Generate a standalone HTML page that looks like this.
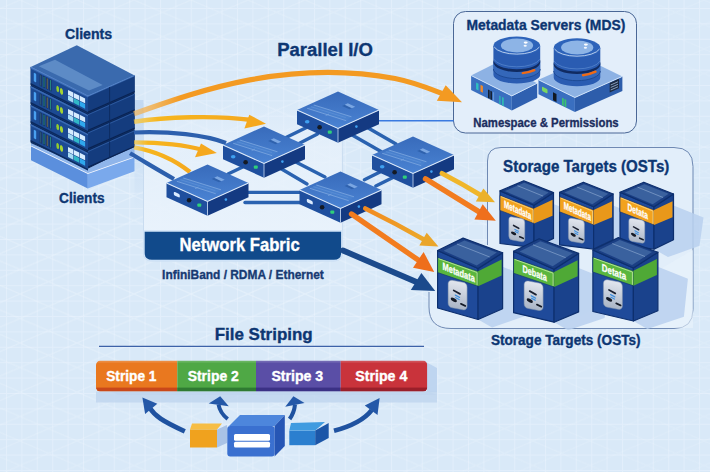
<!DOCTYPE html>
<html><head><meta charset="utf-8"><style>
html,body{margin:0;padding:0;width:710px;height:472px;overflow:hidden;background:#d9e9f8;}
svg{display:block;font-family:"Liberation Sans",sans-serif;}
</style></head><body>
<svg width="710" height="472" viewBox="0 0 710 472" font-family="Liberation Sans, sans-serif"><defs>
<pattern id="sq" x="6" y="8" width="15.4" height="15.4" patternUnits="userSpaceOnUse"><path d="M0.5 0V15.4M0 0.5H15.4" fill="none" stroke="#e2eefb" stroke-width="1"/></pattern>
<pattern id="iso" x="20" y="0" width="57" height="24.5" patternUnits="userSpaceOnUse"><path d="M0 0L57 24.5M0 24.5L57 0" fill="none" stroke="#f4f9fe" stroke-width="1.2"/></pattern>
<radialGradient id="isoMaskG" cx="0.35" cy="0.5" r="0.7"><stop offset="0" stop-color="#fff" stop-opacity="0.9"/><stop offset="1" stop-color="#fff" stop-opacity="0.3"/></radialGradient><mask id="isoMask"><rect width="710" height="472" fill="url(#isoMaskG)"/></mask>
<linearGradient id="gOr" x1="0" x2="1"><stop offset="0" stop-color="#f7b24a" stop-opacity="0.6"/><stop offset="0.15" stop-color="#f39a22"/><stop offset="1" stop-color="#f39a22"/></linearGradient>
<linearGradient id="gYe" x1="0" x2="1"><stop offset="0" stop-color="#f5c842" stop-opacity="0.7"/><stop offset="0.2" stop-color="#f6b61e"/><stop offset="1" stop-color="#f5a81e"/></linearGradient>
<linearGradient id="gSwTop" x1="0" y1="0" x2="0" y2="1"><stop offset="0" stop-color="#386bbb"/><stop offset="1" stop-color="#4a83d3"/></linearGradient>
<linearGradient id="gIcon" x1="0" y1="0" x2="0" y2="1"><stop offset="0" stop-color="#e2e6ee"/><stop offset="1" stop-color="#aab5c6"/></linearGradient>
<linearGradient id="gBand" x1="0" y1="0" x2="0" y2="1"><stop offset="0" stop-color="#1a55a0"/><stop offset="1" stop-color="#123f82"/></linearGradient>
</defs>
<rect width="710" height="472" fill="#d9e9f8"/>
<rect width="710" height="472" fill="url(#sq)"/>
<rect width="710" height="472" fill="url(#iso)" opacity="0.45" mask="url(#isoMask)"/>
<linearGradient id="gPan" x1="0" y1="0" x2="0" y2="1"><stop offset="0" stop-color="#e6f0fb" stop-opacity="0"/><stop offset="0.3" stop-color="#e7f1fb" stop-opacity="0.8"/><stop offset="1" stop-color="#eaf3fc"/></linearGradient><linearGradient id="gPanE" x1="0" y1="0" x2="0" y2="1"><stop offset="0" stop-color="#c9dcf0" stop-opacity="0"/><stop offset="0.35" stop-color="#c9dcf0"/><stop offset="1" stop-color="#c9dcf0"/></linearGradient><path d="M143.5,100 H342.4 V253 Q342.4,261 334,261 H152 Q143.5,261 143.5,253 Z" fill="url(#gPan)" stroke="url(#gPanE)" stroke-width="1"/><linearGradient id="gStrip" x1="0" y1="0" x2="0" y2="1"><stop offset="0" stop-color="#bcd4f0"/><stop offset="1" stop-color="#bcd4f0" stop-opacity="0"/></linearGradient><rect x="134.5" y="100" width="9" height="110" fill="url(#gStrip)" opacity="0.8"/>
<path d="M144,231 H341.8 V253 Q341.8,260.5 334,260.5 H152 Q144,260.5 144,253 Z" fill="#114a8b" stroke="#cfe3f8" stroke-width="1.4"/>
<text x="179.5" y="251.2" font-size="18.38" font-weight="bold" fill="#ffffff" stroke="#ffffff" stroke-width="0.35" textLength="120.2" lengthAdjust="spacingAndGlyphs" >Network Fabric</text>
<text x="162.1" y="278.5" font-size="12.76" font-weight="bold" fill="#173a72" stroke="#173a72" stroke-width="0.35" textLength="161.7" lengthAdjust="spacingAndGlyphs" >InfiniBand / RDMA / Ethernet</text>
<rect x="453.5" y="11.5" width="183" height="121.5" rx="12" fill="#e3eefa" stroke="#4a6796" stroke-width="1"/>
<text x="466.5" y="30.0" font-size="14.54" font-weight="bold" fill="#0d3672" stroke="#0d3672" stroke-width="0.35" textLength="158.8" lengthAdjust="spacingAndGlyphs" >Metadata Servers (MDS)</text>
<text x="473.3" y="126.7" font-size="13.17" font-weight="bold" fill="#1b2d5e" stroke="#1b2d5e" stroke-width="0.35" textLength="145.4" lengthAdjust="spacingAndGlyphs" >Namespace &amp; Permissions</text>
<polygon points="471.1,75.5 511.8,95.9 511.8,110.4 471.1,90.0" fill="#3a6fc0" /><polygon points="511.8,95.9 537.2,83.2 537.2,97.7 511.8,110.4" fill="#2f60b0" /><polygon points="471.1,75.5 496.5,62.8 537.2,83.2 511.8,95.9" fill="#8db2e4" /><polyline points="471.1,75.5 511.8,95.9 537.2,83.2" fill="none" stroke="#d6e6fa" stroke-width="0.9"/><g transform="translate(471.1,75.5) skewY(26.6)"><rect x="5" y="4.5" width="2.4" height="6.8" fill="#2fc0c0"/><rect x="9.4" y="4.6" width="2.4" height="6.8" fill="#f08a2a"/><rect x="17" y="5.5" width="1.5" height="8.5" fill="#111822"/><rect x="19.3" y="5.5" width="1.5" height="8.5" fill="#111822"/><rect x="22" y="5.5" width="1" height="8.5" fill="#6a9ad8"/><rect x="28" y="6" width="1.6" height="8.5" fill="#2fa8b8"/><rect x="31" y="6" width="1.6" height="8.5" fill="#2fc0b0"/></g>
<path d="M493.4,46.0 V74.8 A23.4,8.6 0 0 0 540.2,74.8 V46.0 Z" fill="#2a5cb2"/><path d="M493.4,61.0 A23.4,9.6 0 0 0 540.2,61.0 V69.0 A23.4,9.6 0 0 1 493.4,69.0 Z" fill="#3467b9"/><path d="M493.4,59.7 A23.4,9.6 0 0 0 540.2,59.7 V62.3 A23.4,9.6 0 0 1 493.4,62.3 Z" fill="#102b62"/><path d="M493.9,59.2 A23.4,9.6 0 0 0 539.7,59.2" fill="none" stroke="#5a8ad0" stroke-width="0.7"/><path d="M493.4,69.0 A23.4,9.6 0 0 0 540.2,69.0" fill="none" stroke="#1d4a95" stroke-width="1"/><path d="M522.8,73.1 Q528.5,72.7 534.3,70.2" stroke="#f06a14" stroke-width="2.4" fill="none" stroke-linecap="round"/><ellipse cx="516.8" cy="46" rx="23.4" ry="9.6" fill="#2d63ba"/><path d="M494.2,47.0 A23.4,9.6 0 0 0 539.4,47.0" fill="none" stroke="#d8e6f8" stroke-width="0.8"/><ellipse cx="517.0" cy="45.5" rx="16.1" ry="6.9" fill="#8db4e6"/><ellipse cx="525.7" cy="42.6" rx="2" ry="1.1" fill="#ffffff"/><ellipse cx="525.2" cy="45.7" rx="1.6" ry="1" fill="#ffffff" opacity="0.9"/>
<polygon points="538.5,79.8 574.9,97.5 574.9,112.0 538.5,94.3" fill="#3a6fc0" /><polygon points="574.9,97.5 622.4,76.4 622.4,90.9 574.9,112.0" fill="#2d5dab" /><polygon points="538.5,79.8 586.0,58.7 622.4,76.4 574.9,97.5" fill="#8db2e4" /><polyline points="538.5,79.8 574.9,97.5 622.4,76.4" fill="none" stroke="#d6e6fa" stroke-width="0.9"/><g transform="translate(538.5,79.8) skewY(25.9)"><rect x="3.5" y="5" width="5.5" height="4.5" rx="1" fill="#7ad860"/><rect x="14.5" y="5.5" width="3.5" height="8" fill="#111822"/><rect x="23.5" y="6.5" width="1.8" height="7.5" fill="#3ac070"/><rect x="26" y="6.5" width="1.8" height="7.5" fill="#3ac070"/></g><g transform="translate(609.7,83) skewY(-24)"><rect x="0" y="0" width="9.3" height="9.5" fill="#1c2a40"/><path d="M1,2.5H8.3M1,5H8.3M1,7.5H8.3" stroke="#8aa0c0" stroke-width="0.9"/></g>
<path d="M553.7,48.0 V77.5 A23.3,8.7 0 0 0 600.3,77.5 V48.0 Z" fill="#2a5cb2"/><path d="M553.7,63.0 A23.3,9.7 0 0 0 600.3,63.0 V71.0 A23.3,9.7 0 0 1 553.7,71.0 Z" fill="#3467b9"/><path d="M553.7,61.7 A23.3,9.7 0 0 0 600.3,61.7 V64.3 A23.3,9.7 0 0 1 553.7,64.3 Z" fill="#102b62"/><path d="M554.2,61.2 A23.3,9.7 0 0 0 599.8,61.2" fill="none" stroke="#5a8ad0" stroke-width="0.7"/><path d="M553.7,71.0 A23.3,9.7 0 0 0 600.3,71.0" fill="none" stroke="#1d4a95" stroke-width="1"/><path d="M583.0,75.2 Q589.2,74.7 595.5,71.7" stroke="#f06a14" stroke-width="2.4" fill="none" stroke-linecap="round"/><ellipse cx="577" cy="48" rx="23.3" ry="9.7" fill="#2d63ba"/><path d="M554.5,49.0 A23.3,9.7 0 0 0 599.5,49.0" fill="none" stroke="#d8e6f8" stroke-width="0.8"/><ellipse cx="577.2" cy="47.5" rx="16.1" ry="7.0" fill="#8db4e6"/><ellipse cx="585.9" cy="44.6" rx="2" ry="1.1" fill="#ffffff"/><ellipse cx="585.4" cy="47.7" rx="1.6" ry="1" fill="#ffffff" opacity="0.9"/>
<path d="M487.5,245 V161 Q487.5,147.5 501,147.5 H674 Q693,147.5 693,166.5 V309.5 Q693,328.5 674,328.5 H451 Q429,328.5 429,307 V262 Q429,245 450,245 Z" fill="#e2eefa"/>
<path d="M487.5,245 V161 Q487.5,147.5 501,147.5 H674 Q693,147.5 693,166.5 V309.5 Q693,328.5 674,328.5 H451 Q429,328.5 429,307 V292" fill="none" stroke="#6f89b3" stroke-width="1"/>
<path d="M560,328 L693,250 V328 Z" fill="#eaf3fc" opacity="0.6"/>
<text x="503.1" y="172.0" font-size="16.19" font-weight="bold" fill="#0d3672" stroke="#0d3672" stroke-width="0.35" textLength="166.3" lengthAdjust="spacingAndGlyphs" >Storage Targets (OSTs)</text>
<text x="490.9" y="345.3" font-size="13.99" font-weight="bold" fill="#0d3672" stroke="#0d3672" stroke-width="0.35" textLength="149.7" lengthAdjust="spacingAndGlyphs" >Storage Targets (OSTs)</text>
<text x="65.0" y="38.7" font-size="14.13" font-weight="bold" fill="#0d3672" stroke="#0d3672" stroke-width="0.35" textLength="47.1" lengthAdjust="spacingAndGlyphs" >Clients</text>
<text x="59.1" y="203.2" font-size="14.13" font-weight="bold" fill="#0d3672" stroke="#0d3672" stroke-width="0.35" textLength="45.5" lengthAdjust="spacingAndGlyphs" >Clients</text>
<text x="277.2" y="55.6" font-size="18.79" font-weight="bold" fill="#0d3672" stroke="#0d3672" stroke-width="0.35" textLength="95.7" lengthAdjust="spacingAndGlyphs" >Parallel I/O</text>
<polygon points="31.0,143.0 88.0,168.8 134.6,145.4 134.5,157.5 87.8,174.0 31.0,146.5" fill="#8fb5ea" />
<polyline points="31,146.5 87.8,174 134.5,157.5" fill="none" stroke="#f4f8ff" stroke-width="1.6"/>
<polygon points="31.0,146.5 87.8,174.0 87.8,188.6 31.0,160.2" fill="#5b8fdd" />
<polygon points="87.8,174.0 134.5,157.5 134.5,171.2 87.8,188.6" fill="#7aa9ec" />
<polygon points="30.7,67.1 88.0,96.0 134.6,75.4 134.6,145.4 88.0,168.8 30.7,143.0" fill="#0c2a5e" />
<g transform="translate(30.70,124.10) skewY(26.765)"><rect x="0" y="0" width="57.30" height="17.60" fill="#1c4a93"/><rect x="0" y="0" width="57.30" height="1.6" fill="#3a6ab4"/><rect x="0" y="16.00" width="57.30" height="1.6" fill="#0c2a5e"/><rect x="3.1" y="4" width="2.4" height="8.6" rx="0.6" fill="#4aa0f0"/><rect x="9" y="2.5" width="2.2" height="11.5" fill="#15305c"/><rect x="9.7" y="3" width="0.8" height="10.5" fill="#3a6a8a"/><rect x="12.2" y="2.5" width="2.2" height="11.5" fill="#15305c"/><rect x="12.9" y="3" width="0.8" height="10.5" fill="#2aa08a"/><rect x="15.4" y="2.5" width="2.2" height="11.5" fill="#15305c"/><rect x="16.1" y="3" width="0.8" height="10.5" fill="#8a7a50"/><rect x="18.6" y="2.5" width="2.2" height="11.5" fill="#15305c"/><rect x="19.3" y="3" width="0.8" height="10.5" fill="#2a9a8a"/><ellipse cx="27" cy="8.3" rx="1.4" ry="3" fill="#93cc2e"/><ellipse cx="30.8" cy="8.8" rx="1.6" ry="3.2" fill="#a6d432"/><rect x="37.3" y="4" width="5.3" height="4.8" fill="#d6ecff"/><rect x="43.2" y="4" width="5.3" height="4.8" fill="#d6ecff"/><rect x="49.1" y="4" width="5.3" height="4.8" fill="#d6ecff"/><rect x="37.3" y="9.4" width="5.3" height="4.8" fill="#a8dcf6"/><rect x="43.2" y="9.4" width="5.3" height="4.8" fill="#31b8c8"/><rect x="49.1" y="9.4" width="5.3" height="4.8" fill="#2fa8ee"/></g>
<g transform="translate(88.00,150.90) skewY(-23.848)"><rect x="0" y="0" width="46.60" height="16.80" fill="#143c7e"/><rect x="0" y="0" width="46.60" height="1" fill="#2d5aa0"/><rect x="0" y="15.50" width="46.60" height="1.3" fill="#0a2352"/><rect x="21.2" y="0" width="0.9" height="16.8" fill="#0c2a5e"/></g>
<g transform="translate(30.70,105.10) skewY(26.765)"><rect x="0" y="0" width="57.30" height="17.60" fill="#1c4a93"/><rect x="0" y="0" width="57.30" height="1.6" fill="#3a6ab4"/><rect x="0" y="16.00" width="57.30" height="1.6" fill="#0c2a5e"/><rect x="3.1" y="4" width="2.4" height="8.6" rx="0.6" fill="#4aa0f0"/><rect x="9" y="2.5" width="2.2" height="11.5" fill="#15305c"/><rect x="9.7" y="3" width="0.8" height="10.5" fill="#3a6a8a"/><rect x="12.2" y="2.5" width="2.2" height="11.5" fill="#15305c"/><rect x="12.9" y="3" width="0.8" height="10.5" fill="#2aa08a"/><rect x="15.4" y="2.5" width="2.2" height="11.5" fill="#15305c"/><rect x="16.1" y="3" width="0.8" height="10.5" fill="#8a7a50"/><rect x="18.6" y="2.5" width="2.2" height="11.5" fill="#15305c"/><rect x="19.3" y="3" width="0.8" height="10.5" fill="#2a9a8a"/><ellipse cx="27" cy="8.3" rx="1.4" ry="3" fill="#93cc2e"/><ellipse cx="30.8" cy="8.8" rx="1.6" ry="3.2" fill="#a6d432"/><rect x="37.3" y="4" width="5.3" height="4.8" fill="#d6ecff"/><rect x="43.2" y="4" width="5.3" height="4.8" fill="#d6ecff"/><rect x="49.1" y="4" width="5.3" height="4.8" fill="#d6ecff"/><rect x="37.3" y="9.4" width="5.3" height="4.8" fill="#a8dcf6"/><rect x="43.2" y="9.4" width="5.3" height="4.8" fill="#31b8c8"/><rect x="49.1" y="9.4" width="5.3" height="4.8" fill="#2fa8ee"/></g>
<g transform="translate(88.00,132.60) skewY(-23.848)"><rect x="0" y="0" width="46.60" height="16.80" fill="#143c7e"/><rect x="0" y="0" width="46.60" height="1" fill="#2d5aa0"/><rect x="0" y="15.50" width="46.60" height="1.3" fill="#0a2352"/><rect x="21.2" y="0" width="0.9" height="16.8" fill="#0c2a5e"/></g>
<g transform="translate(30.70,86.10) skewY(26.765)"><rect x="0" y="0" width="57.30" height="17.60" fill="#1c4a93"/><rect x="0" y="0" width="57.30" height="1.6" fill="#3a6ab4"/><rect x="0" y="16.00" width="57.30" height="1.6" fill="#0c2a5e"/><rect x="3.1" y="4" width="2.4" height="8.6" rx="0.6" fill="#4aa0f0"/><rect x="9" y="2.5" width="2.2" height="11.5" fill="#15305c"/><rect x="9.7" y="3" width="0.8" height="10.5" fill="#3a6a8a"/><rect x="12.2" y="2.5" width="2.2" height="11.5" fill="#15305c"/><rect x="12.9" y="3" width="0.8" height="10.5" fill="#2aa08a"/><rect x="15.4" y="2.5" width="2.2" height="11.5" fill="#15305c"/><rect x="16.1" y="3" width="0.8" height="10.5" fill="#8a7a50"/><rect x="18.6" y="2.5" width="2.2" height="11.5" fill="#15305c"/><rect x="19.3" y="3" width="0.8" height="10.5" fill="#2a9a8a"/><ellipse cx="27" cy="8.3" rx="1.4" ry="3" fill="#93cc2e"/><ellipse cx="30.8" cy="8.8" rx="1.6" ry="3.2" fill="#a6d432"/><rect x="37.3" y="4" width="5.3" height="4.8" fill="#d6ecff"/><rect x="43.2" y="4" width="5.3" height="4.8" fill="#d6ecff"/><rect x="49.1" y="4" width="5.3" height="4.8" fill="#d6ecff"/><rect x="37.3" y="9.4" width="5.3" height="4.8" fill="#a8dcf6"/><rect x="43.2" y="9.4" width="5.3" height="4.8" fill="#31b8c8"/><rect x="49.1" y="9.4" width="5.3" height="4.8" fill="#2fa8ee"/></g>
<g transform="translate(88.00,114.30) skewY(-23.848)"><rect x="0" y="0" width="46.60" height="16.80" fill="#143c7e"/><rect x="0" y="0" width="46.60" height="1" fill="#2d5aa0"/><rect x="0" y="15.50" width="46.60" height="1.3" fill="#0a2352"/><rect x="21.2" y="0" width="0.9" height="16.8" fill="#0c2a5e"/></g>
<g transform="translate(30.70,67.10) skewY(26.765)"><rect x="0" y="0" width="57.30" height="17.60" fill="#1c4a93"/><rect x="0" y="0" width="57.30" height="1.6" fill="#3a6ab4"/><rect x="0" y="16.00" width="57.30" height="1.6" fill="#0c2a5e"/><rect x="3.1" y="4" width="2.4" height="8.6" rx="0.6" fill="#4aa0f0"/><rect x="9" y="2.5" width="2.2" height="11.5" fill="#15305c"/><rect x="9.7" y="3" width="0.8" height="10.5" fill="#3a6a8a"/><rect x="12.2" y="2.5" width="2.2" height="11.5" fill="#15305c"/><rect x="12.9" y="3" width="0.8" height="10.5" fill="#2aa08a"/><rect x="15.4" y="2.5" width="2.2" height="11.5" fill="#15305c"/><rect x="16.1" y="3" width="0.8" height="10.5" fill="#8a7a50"/><rect x="18.6" y="2.5" width="2.2" height="11.5" fill="#15305c"/><rect x="19.3" y="3" width="0.8" height="10.5" fill="#2a9a8a"/><ellipse cx="27" cy="8.3" rx="1.4" ry="3" fill="#93cc2e"/><ellipse cx="30.8" cy="8.8" rx="1.6" ry="3.2" fill="#a6d432"/><rect x="37.3" y="4" width="5.3" height="4.8" fill="#d6ecff"/><rect x="43.2" y="4" width="5.3" height="4.8" fill="#d6ecff"/><rect x="49.1" y="4" width="5.3" height="4.8" fill="#d6ecff"/><rect x="37.3" y="9.4" width="5.3" height="4.8" fill="#a8dcf6"/><rect x="43.2" y="9.4" width="5.3" height="4.8" fill="#31b8c8"/><rect x="49.1" y="9.4" width="5.3" height="4.8" fill="#2fa8ee"/></g>
<g transform="translate(88.00,96.00) skewY(-23.848)"><rect x="0" y="0" width="46.60" height="16.80" fill="#143c7e"/><rect x="0" y="0" width="46.60" height="1" fill="#2d5aa0"/><rect x="0" y="15.50" width="46.60" height="1.3" fill="#0a2352"/><rect x="21.2" y="0" width="0.9" height="16.8" fill="#0c2a5e"/></g>
<polygon points="30.7,67.1 76.8,45.2 134.6,75.4 88.0,96.0" fill="#3a6aae" />
<polygon points="38.8,66.3 55.0,59.8 102.7,84.9 89.0,90.6" fill="#5d8bc6" />
<polyline points="30.7,67.1 88,96 134.6,75.4" fill="none" stroke="#5b8ad0" stroke-width="0.8"/>
<path d="M134,113.8 C200,90 290,59 395,78.5 C415,82.5 428,88 442,93.5" fill="none" stroke="url(#gOr)" stroke-width="5.2" stroke-linecap="butt" />
<polygon points="462.0,102.3 445.7,85.2 436.8,100.8" fill="#f39a22" />
<path d="M134,121.7 C165,117 215,115 252,120" fill="none" stroke="url(#gYe)" stroke-width="4.4" stroke-linecap="butt" />
<polygon points="266.0,123.7 249.3,114.8 244.4,128.6" fill="#f5a81e" />
<path d="M134,132.5 C170,131 205,135 226,143" fill="none" stroke="#2c5fad" stroke-width="4.2" stroke-linecap="butt" />
<path d="M134,142.4 C160,142.5 185,145 203,150" fill="none" stroke="url(#gYe)" stroke-width="4.4" stroke-linecap="butt" />
<polygon points="216.8,152.9 201.0,143.4 195.0,157.2" fill="#f5a81e" />
<path d="M134,147.3 C155,151 175,160 190,172" fill="none" stroke="url(#gYe)" stroke-width="4.4" stroke-linecap="butt" />
<path d="M130,153.3 C145,162 158,170 174,179" fill="none" stroke="#2c5fad" stroke-width="4.2" stroke-linecap="butt" />
<line x1="306" y1="127.7" x2="285" y2="138" stroke="#2a62b0" stroke-width="3.4" stroke-linecap="round"/>
<line x1="317.5" y1="134" x2="298" y2="144" stroke="#2a62b0" stroke-width="3.4" stroke-linecap="round"/>
<line x1="365.6" y1="126.5" x2="396" y2="144" stroke="#2a62b0" stroke-width="3.4" stroke-linecap="round"/>
<line x1="350.4" y1="134" x2="381" y2="151.5" stroke="#2a62b0" stroke-width="3.4" stroke-linecap="round"/>
<line x1="293.4" y1="160.7" x2="325" y2="177" stroke="#2a62b0" stroke-width="3.4" stroke-linecap="round"/>
<line x1="278.2" y1="167" x2="307" y2="184" stroke="#2a62b0" stroke-width="3.4" stroke-linecap="round"/>
<line x1="364.4" y1="179.7" x2="384" y2="170" stroke="#2a62b0" stroke-width="3.4" stroke-linecap="round"/>
<line x1="375.8" y1="186" x2="396" y2="176" stroke="#2a62b0" stroke-width="3.4" stroke-linecap="round"/>
<line x1="247" y1="192.4" x2="301" y2="192.4" stroke="#2a62b0" stroke-width="3.4" stroke-linecap="round"/>
<line x1="245" y1="202.5" x2="300" y2="202.5" stroke="#2a62b0" stroke-width="3.4" stroke-linecap="round"/>
<line x1="242.7" y1="167" x2="228" y2="174" stroke="#2a62b0" stroke-width="3.4" stroke-linecap="round"/>
<line x1="379" y1="120.8" x2="453" y2="120.8" stroke="#3a7ae0" stroke-width="1.6" stroke-linecap="round"/>
<polygon points="297.0,110.0 338.0,128.5 338.0,142.7 297.0,124.2" fill="#1f4f9e" /><polygon points="338.0,128.5 379.0,110.0 379.0,124.2 338.0,142.7" fill="#143a82" /><polygon points="297.0,110.0 338.0,91.5 379.0,110.0 338.0,128.5" fill="url(#gSwTop)" /><polygon points="307.2,108.3 346.2,120.7 351.5,116.8 313.8,105.0" fill="#4f86d2" opacity="0.55"/><line x1="307.2" y1="108.3" x2="346.2" y2="120.7" stroke="#77a3de" stroke-width="0.9"/><line x1="313.8" y1="105.0" x2="351.5" y2="116.8" stroke="#77a3de" stroke-width="0.9"/><line x1="310.9" y1="106.7" x2="345.8" y2="117.6" stroke="#5f92d8" stroke-width="0.7"/><line x1="325.7" y1="115.5" x2="329.0" y2="114.1" stroke="#77a3de" stroke-width="0.8"/><polygon points="345.4,104.5 352.8,107.8 349.5,109.3 342.1,105.9" fill="#2f62ae" /><polygon points="347.8,103.3 355.2,106.7 351.9,108.2 344.6,104.8" fill="#7aa6e2" /><polyline points="297.0,110.0 338.0,128.5 379.0,110.0" fill="none" stroke="#dbe8f8" stroke-width="1.1"/><line x1="338.0" y1="128.5" x2="338.0" y2="142.7" stroke="#c9dcf5" stroke-width="0.8"/><ellipse cx="307.2" cy="121.7" rx="2.3" ry="1.8" fill="#3fa0f0"/><circle cx="319.6" cy="127.3" r="2.3" fill="#141a24"/><rect x="327.8" y="130.6" width="4" height="3.2" rx="1" fill="#2fd07a"/><circle cx="356.4" cy="126.6" r="1.3" fill="#3fa0f0"/>
<polygon points="223.0,145.0 264.0,163.5 264.0,177.7 223.0,159.2" fill="#1f4f9e" /><polygon points="264.0,163.5 305.0,145.0 305.0,159.2 264.0,177.7" fill="#143a82" /><polygon points="223.0,145.0 264.0,126.5 305.0,145.0 264.0,163.5" fill="url(#gSwTop)" /><polygon points="233.2,143.3 272.2,155.7 277.5,151.8 239.8,140.0" fill="#4f86d2" opacity="0.55"/><line x1="233.2" y1="143.3" x2="272.2" y2="155.7" stroke="#77a3de" stroke-width="0.9"/><line x1="239.8" y1="140.0" x2="277.5" y2="151.8" stroke="#77a3de" stroke-width="0.9"/><line x1="236.9" y1="141.7" x2="271.8" y2="152.6" stroke="#5f92d8" stroke-width="0.7"/><line x1="251.7" y1="150.6" x2="255.0" y2="149.1" stroke="#77a3de" stroke-width="0.8"/><polygon points="271.4,139.4 278.8,142.8 275.5,144.3 268.1,140.9" fill="#2f62ae" /><polygon points="273.8,138.3 281.2,141.7 277.9,143.2 270.6,139.8" fill="#7aa6e2" /><polyline points="223.0,145.0 264.0,163.5 305.0,145.0" fill="none" stroke="#dbe8f8" stroke-width="1.1"/><line x1="264.0" y1="163.5" x2="264.0" y2="177.7" stroke="#c9dcf5" stroke-width="0.8"/><ellipse cx="233.2" cy="156.7" rx="2.3" ry="1.8" fill="#3fa0f0"/><circle cx="245.6" cy="162.3" r="2.3" fill="#141a24"/><rect x="253.8" y="165.6" width="4" height="3.2" rx="1" fill="#2fd07a"/><circle cx="282.4" cy="161.6" r="1.3" fill="#3fa0f0"/>
<polygon points="372.0,155.0 413.0,173.5 413.0,187.7 372.0,169.2" fill="#1f4f9e" /><polygon points="413.0,173.5 454.0,155.0 454.0,169.2 413.0,187.7" fill="#143a82" /><polygon points="372.0,155.0 413.0,136.5 454.0,155.0 413.0,173.5" fill="url(#gSwTop)" /><polygon points="382.2,153.3 421.2,165.7 426.5,161.8 388.8,150.0" fill="#4f86d2" opacity="0.55"/><line x1="382.2" y1="153.3" x2="421.2" y2="165.7" stroke="#77a3de" stroke-width="0.9"/><line x1="388.8" y1="150.0" x2="426.5" y2="161.8" stroke="#77a3de" stroke-width="0.9"/><line x1="385.9" y1="151.7" x2="420.8" y2="162.6" stroke="#5f92d8" stroke-width="0.7"/><line x1="400.7" y1="160.6" x2="404.0" y2="159.1" stroke="#77a3de" stroke-width="0.8"/><polygon points="420.4,149.4 427.8,152.8 424.5,154.3 417.1,150.9" fill="#2f62ae" /><polygon points="422.8,148.3 430.2,151.7 426.9,153.2 419.6,149.8" fill="#7aa6e2" /><polyline points="372.0,155.0 413.0,173.5 454.0,155.0" fill="none" stroke="#dbe8f8" stroke-width="1.1"/><line x1="413.0" y1="173.5" x2="413.0" y2="187.7" stroke="#c9dcf5" stroke-width="0.8"/><ellipse cx="382.2" cy="166.7" rx="2.3" ry="1.8" fill="#3fa0f0"/><circle cx="394.6" cy="172.3" r="2.3" fill="#141a24"/><rect x="402.8" y="175.6" width="4" height="3.2" rx="1" fill="#2fd07a"/><circle cx="431.4" cy="171.6" r="1.3" fill="#3fa0f0"/>
<polygon points="166.5,183.0 207.5,201.5 207.5,215.7 166.5,197.2" fill="#1f4f9e" /><polygon points="207.5,201.5 248.5,183.0 248.5,197.2 207.5,215.7" fill="#143a82" /><polygon points="166.5,183.0 207.5,164.5 248.5,183.0 207.5,201.5" fill="url(#gSwTop)" /><polygon points="176.8,181.3 215.7,193.7 221.0,189.8 183.3,178.0" fill="#4f86d2" opacity="0.55"/><line x1="176.8" y1="181.3" x2="215.7" y2="193.7" stroke="#77a3de" stroke-width="0.9"/><line x1="183.3" y1="178.0" x2="221.0" y2="189.8" stroke="#77a3de" stroke-width="0.9"/><line x1="180.4" y1="179.7" x2="215.3" y2="190.6" stroke="#5f92d8" stroke-width="0.7"/><line x1="195.2" y1="188.6" x2="198.5" y2="187.1" stroke="#77a3de" stroke-width="0.8"/><polygon points="214.9,177.4 222.3,180.8 219.0,182.3 211.6,178.9" fill="#2f62ae" /><polygon points="217.3,176.3 224.7,179.7 221.4,181.2 214.1,177.8" fill="#7aa6e2" /><polyline points="166.5,183.0 207.5,201.5 248.5,183.0" fill="none" stroke="#dbe8f8" stroke-width="1.1"/><line x1="207.5" y1="201.5" x2="207.5" y2="215.7" stroke="#c9dcf5" stroke-width="0.8"/><g transform="translate(176.8,194.7) skewY(24)"><rect x="-3" y="-1.8" width="6" height="3.6" rx="1.2" fill="#dcecff"/></g><circle cx="189.1" cy="200.3" r="2.3" fill="#141a24"/><rect x="197.3" y="203.6" width="4" height="3.2" rx="1" fill="#2fd07a"/><circle cx="225.9" cy="199.6" r="1.3" fill="#3fa0f0"/>
<polygon points="299.5,190.0 340.5,208.5 340.5,222.7 299.5,204.2" fill="#1f4f9e" /><polygon points="340.5,208.5 381.5,190.0 381.5,204.2 340.5,222.7" fill="#143a82" /><polygon points="299.5,190.0 340.5,171.5 381.5,190.0 340.5,208.5" fill="url(#gSwTop)" /><polygon points="309.8,188.3 348.7,200.7 354.0,196.8 316.3,185.0" fill="#4f86d2" opacity="0.55"/><line x1="309.8" y1="188.3" x2="348.7" y2="200.7" stroke="#77a3de" stroke-width="0.9"/><line x1="316.3" y1="185.0" x2="354.0" y2="196.8" stroke="#77a3de" stroke-width="0.9"/><line x1="313.4" y1="186.7" x2="348.3" y2="197.6" stroke="#5f92d8" stroke-width="0.7"/><line x1="328.2" y1="195.6" x2="331.5" y2="194.1" stroke="#77a3de" stroke-width="0.8"/><polygon points="347.9,184.4 355.3,187.8 352.0,189.3 344.6,185.9" fill="#2f62ae" /><polygon points="350.3,183.3 357.7,186.7 354.4,188.2 347.1,184.8" fill="#7aa6e2" /><polyline points="299.5,190.0 340.5,208.5 381.5,190.0" fill="none" stroke="#dbe8f8" stroke-width="1.1"/><line x1="340.5" y1="208.5" x2="340.5" y2="222.7" stroke="#c9dcf5" stroke-width="0.8"/><g transform="translate(309.8,201.7) skewY(24)"><rect x="-3" y="-1.8" width="6" height="3.6" rx="1.2" fill="#dcecff"/></g><circle cx="322.1" cy="207.3" r="2.3" fill="#141a24"/><rect x="330.3" y="210.6" width="4" height="3.2" rx="1" fill="#2fd07a"/><circle cx="358.9" cy="206.6" r="1.3" fill="#3fa0f0"/>
<path d="M442.0,173.3 Q462.8,184.0 482.7,196.4" fill="none" stroke="#f0b62a" stroke-width="4.8" stroke-linecap="round"/><polygon points="495.0,202.2 483.4,188.4 475.8,201.5" fill="#ebb12a" />
<path d="M425.5,178.8 Q453.8,196.2 482.0,213.6" fill="none" stroke="#f27c1f" stroke-width="5.4" stroke-linecap="round"/><polygon points="495.8,220.8 482.7,204.3 474.4,219.4" fill="#ef6f1c" />
<linearGradient id="gEy" gradientUnits="userSpaceOnUse" x1="365" y1="208" x2="430" y2="240"><stop offset="0" stop-color="#f28a20"/><stop offset="1" stop-color="#ebab2a"/></linearGradient>
<path d="M365.3,208.5 Q396.2,223.7 426.1,240.7" fill="none" stroke="url(#gEy)" stroke-width="4.7" stroke-linecap="round"/><polygon points="438.4,246.6 426.7,232.8 419.3,245.6" fill="#eaa52a" />
<path d="M351.5,214.0 Q386.5,238.1 421.5,262.3" fill="none" stroke="#f27c1f" stroke-width="5.3" stroke-linecap="round"/><polygon points="434.2,272.0 423.6,251.9 413.0,267.8" fill="#ee6e1c" />
<path d="M343.0,250.5 Q381.5,267.0 419.9,283.5" fill="none" stroke="#1b4a8c" stroke-width="5.8" stroke-linecap="round"/><polygon points="435.2,291.1 421.4,273.1 410.8,290.0" fill="#1b4a8c" />
<polygon points="553.5,204.0 583.5,216.0 579.5,244.4 548.0,255.7 534.0,247.7 553.5,238.4" fill="#b9d0ee" opacity="0.85"/><polygon points="500.0,190.9 534.0,205.3 534.0,247.7 500.0,243.5" fill="#1f4a9a" stroke="#0d2f6e" stroke-width="1.2" stroke-linejoin="round" /><polygon points="534.0,205.3 553.5,192.6 553.5,238.4 534.0,247.7" fill="#1a428c" stroke="#0d2f6e" stroke-width="1.2" stroke-linejoin="round" /><polygon points="500.0,190.9 523.8,180.8 553.5,192.6 534.0,205.3" fill="#1b3f84" stroke="#0d2f6e" stroke-width="1.2" stroke-linejoin="round" /><polygon points="504.8,191.1 524.3,182.8 548.7,192.4 532.7,202.9" fill="#3a619e" /><line x1="517.5" y1="185.7" x2="543.1" y2="196.1" stroke="#7d9cc8" stroke-width="0.8"/><polygon points="500.0,195.4 534.0,208.5 534.0,223.5 500.0,210.4" fill="#f2a21e" stroke="#0d2f6e" stroke-width="0.6" stroke-linejoin="round" /><polygon points="534.0,208.5 552.5,199.8 552.5,215.8 534.0,223.5" fill="#e9981a" /><polyline points="501.0,196.6 533.0,209.7 533.0,222.5" fill="none" stroke="#f9d27a" stroke-width="0.9"/><g transform="translate(504.1,207.4) skewY(23.9)"><text x="0" y="0" font-size="10.4" font-weight="bold" fill="#ffffff" stroke="#ffffff" stroke-width="0.25" textLength="27.2" lengthAdjust="spacingAndGlyphs">Metadata</text></g><g transform="translate(508.8,216.3) skewY(10.3)"><rect x="0" y="0" width="16.0" height="23.1" rx="3.5" fill="url(#gIcon)" stroke="#7f92ad" stroke-width="0.5"/><path d="M4.8,8.3 L9.9,10.2" stroke="#1a2030" stroke-width="1.6" stroke-linecap="round"/><path d="M6.1,12.0 L9.6,13.2 M6.4,14.1 L9.3,15.0" stroke="#3a8ee0" stroke-width="1.1" stroke-linecap="round"/><ellipse cx="4.8" cy="16.2" rx="2.7" ry="1.5" fill="#141a26" transform="rotate(15 4.8 16.2)"/><path d="M10.9,18.5 L14.4,19.4" stroke="#141a26" stroke-width="1.6" stroke-linecap="round"/></g>
<polygon points="613.1,205.4 643.1,217.4 639.1,245.8 607.6,257.1 593.6,249.1 613.1,239.8" fill="#b9d0ee" opacity="0.85"/><polygon points="559.6,192.3 593.6,206.7 593.6,249.1 559.6,244.9" fill="#1f4a9a" stroke="#0d2f6e" stroke-width="1.2" stroke-linejoin="round" /><polygon points="593.6,206.7 613.1,194.0 613.1,239.8 593.6,249.1" fill="#1a428c" stroke="#0d2f6e" stroke-width="1.2" stroke-linejoin="round" /><polygon points="559.6,192.3 583.4,182.2 613.1,194.0 593.6,206.7" fill="#1b3f84" stroke="#0d2f6e" stroke-width="1.2" stroke-linejoin="round" /><polygon points="564.4,192.5 583.9,184.2 608.3,193.8 592.3,204.3" fill="#3a619e" /><line x1="577.1" y1="187.1" x2="602.7" y2="197.5" stroke="#7d9cc8" stroke-width="0.8"/><polygon points="559.6,196.8 593.6,209.9 593.6,224.9 559.6,211.8" fill="#f2a21e" stroke="#0d2f6e" stroke-width="0.6" stroke-linejoin="round" /><polygon points="593.6,209.9 612.1,201.2 612.1,217.2 593.6,224.9" fill="#e9981a" /><polyline points="560.6,198.0 592.6,211.1 592.6,223.9" fill="none" stroke="#f9d27a" stroke-width="0.9"/><g transform="translate(563.7,208.8) skewY(23.9)"><text x="0" y="0" font-size="10.4" font-weight="bold" fill="#ffffff" stroke="#ffffff" stroke-width="0.25" textLength="27.2" lengthAdjust="spacingAndGlyphs">Metadata</text></g><g transform="translate(568.4,217.7) skewY(10.3)"><rect x="0" y="0" width="16.0" height="23.1" rx="3.5" fill="url(#gIcon)" stroke="#7f92ad" stroke-width="0.5"/><path d="M4.8,8.3 L9.9,10.2" stroke="#1a2030" stroke-width="1.6" stroke-linecap="round"/><path d="M6.1,12.0 L9.6,13.2 M6.4,14.1 L9.3,15.0" stroke="#3a8ee0" stroke-width="1.1" stroke-linecap="round"/><ellipse cx="4.8" cy="16.2" rx="2.7" ry="1.5" fill="#141a26" transform="rotate(15 4.8 16.2)"/><path d="M10.9,18.5 L14.4,19.4" stroke="#141a26" stroke-width="1.6" stroke-linecap="round"/></g>
<polygon points="673.5,205.4 703.5,217.4 699.5,245.8 668.0,257.1 654.0,249.1 673.5,239.8" fill="#b9d0ee" opacity="0.85"/><polygon points="620.0,192.3 654.0,206.7 654.0,249.1 620.0,244.9" fill="#1f4a9a" stroke="#0d2f6e" stroke-width="1.2" stroke-linejoin="round" /><polygon points="654.0,206.7 673.5,194.0 673.5,239.8 654.0,249.1" fill="#1a428c" stroke="#0d2f6e" stroke-width="1.2" stroke-linejoin="round" /><polygon points="620.0,192.3 643.8,182.2 673.5,194.0 654.0,206.7" fill="#1b3f84" stroke="#0d2f6e" stroke-width="1.2" stroke-linejoin="round" /><polygon points="624.8,192.5 644.3,184.2 668.7,193.8 652.7,204.3" fill="#3a619e" /><line x1="637.5" y1="187.1" x2="663.1" y2="197.5" stroke="#7d9cc8" stroke-width="0.8"/><polygon points="620.0,196.8 654.0,209.9 654.0,224.9 620.0,211.8" fill="#f2a21e" stroke="#0d2f6e" stroke-width="0.6" stroke-linejoin="round" /><polygon points="654.0,209.9 672.5,201.2 672.5,217.2 654.0,224.9" fill="#e9981a" /><polyline points="621.0,198.0 653.0,211.1 653.0,223.9" fill="none" stroke="#f9d27a" stroke-width="0.9"/><g transform="translate(627.5,210.3) skewY(23.9)"><text x="0" y="0" font-size="10.4" font-weight="bold" fill="#ffffff" stroke="#ffffff" stroke-width="0.25" textLength="20.4" lengthAdjust="spacingAndGlyphs">Detata</text></g><g transform="translate(628.8,217.7) skewY(10.3)"><rect x="0" y="0" width="16.0" height="23.1" rx="3.5" fill="url(#gIcon)" stroke="#7f92ad" stroke-width="0.5"/><path d="M4.8,8.3 L9.9,10.2" stroke="#1a2030" stroke-width="1.6" stroke-linecap="round"/><path d="M6.1,12.0 L9.6,13.2 M6.4,14.1 L9.3,15.0" stroke="#3a8ee0" stroke-width="1.1" stroke-linecap="round"/><ellipse cx="4.8" cy="16.2" rx="2.7" ry="1.5" fill="#141a26" transform="rotate(15 4.8 16.2)"/><path d="M10.9,18.5 L14.4,19.4" stroke="#141a26" stroke-width="1.6" stroke-linecap="round"/></g>
<polygon points="502.6,266.7 532.6,278.7 528.6,314.7 492.1,327.5 478.1,319.5 502.6,308.7" fill="#b9d0ee" opacity="0.85"/><polygon points="437.6,250.5 478.1,268.5 478.1,319.5 437.6,308.0" fill="#1f4a9a" stroke="#0d2f6e" stroke-width="1.2" stroke-linejoin="round" /><polygon points="478.1,268.5 502.6,252.7 502.6,308.7 478.1,319.5" fill="#1a428c" stroke="#0d2f6e" stroke-width="1.2" stroke-linejoin="round" /><polygon points="437.6,250.5 463.1,238.1 502.6,252.7 478.1,268.5" fill="#1b3f84" stroke="#0d2f6e" stroke-width="1.2" stroke-linejoin="round" /><polygon points="443.5,250.7 464.4,240.5 496.8,252.5 476.7,265.5" fill="#3a619e" /><line x1="457.0" y1="244.1" x2="489.7" y2="257.0" stroke="#7d9cc8" stroke-width="0.8"/><polygon points="437.6,257.5 478.1,271.3 478.1,286.3 437.6,272.5" fill="#5ab63e" stroke="#0d2f6e" stroke-width="0.6" stroke-linejoin="round" /><polygon points="478.1,271.3 501.6,259.5 501.6,275.5 478.1,286.3" fill="#4fa936" /><polyline points="438.6,258.7 477.1,272.5 477.1,285.3" fill="none" stroke="#b9e59a" stroke-width="0.9"/><g transform="translate(442.5,269.6) skewY(21.4)"><text x="0" y="0" font-size="10.4" font-weight="bold" fill="#ffffff" stroke="#ffffff" stroke-width="0.25" textLength="32.4" lengthAdjust="spacingAndGlyphs">Metadata</text></g><g transform="translate(448.1,279.5) skewY(10.8)"><rect x="0" y="0" width="19.0" height="27.5" rx="4.2" fill="url(#gIcon)" stroke="#7f92ad" stroke-width="0.5"/><path d="M5.7,9.9 L11.8,12.1" stroke="#1a2030" stroke-width="1.9" stroke-linecap="round"/><path d="M7.2,14.3 L11.4,15.7 M7.6,16.8 L11.0,17.9" stroke="#3a8ee0" stroke-width="1.3" stroke-linecap="round"/><ellipse cx="5.7" cy="19.3" rx="3.2" ry="1.8" fill="#141a26" transform="rotate(15 5.7 19.3)"/><path d="M12.9,22.0 L17.1,23.1" stroke="#141a26" stroke-width="1.9" stroke-linecap="round"/></g>
<polygon points="578.6,268.0 608.6,280.0 604.6,317.9 568.1,330.2 554.1,322.2 578.6,311.9" fill="#b9d0ee" opacity="0.85"/><polygon points="513.6,251.2 554.1,269.2 554.1,322.2 513.6,312.7" fill="#1f4a9a" stroke="#0d2f6e" stroke-width="1.2" stroke-linejoin="round" /><polygon points="554.1,269.2 578.6,253.4 578.6,311.9 554.1,322.2" fill="#1a428c" stroke="#0d2f6e" stroke-width="1.2" stroke-linejoin="round" /><polygon points="513.6,251.2 539.1,238.8 578.6,253.4 554.1,269.2" fill="#1b3f84" stroke="#0d2f6e" stroke-width="1.2" stroke-linejoin="round" /><polygon points="519.5,251.4 540.4,241.2 572.8,253.2 552.7,266.2" fill="#3a619e" /><line x1="533.0" y1="244.8" x2="565.7" y2="257.7" stroke="#7d9cc8" stroke-width="0.8"/><polygon points="513.6,258.2 554.1,272.0 554.1,287.0 513.6,273.2" fill="#5ab63e" stroke="#0d2f6e" stroke-width="0.6" stroke-linejoin="round" /><polygon points="554.1,272.0 577.6,260.2 577.6,276.2 554.1,287.0" fill="#4fa936" /><polyline points="514.6,259.4 553.1,273.2 553.1,286.0" fill="none" stroke="#b9e59a" stroke-width="0.9"/><g transform="translate(522.5,271.9) skewY(21.4)"><text x="0" y="0" font-size="10.4" font-weight="bold" fill="#ffffff" stroke="#ffffff" stroke-width="0.25" textLength="24.3" lengthAdjust="spacingAndGlyphs">Debata</text></g><g transform="translate(524.1,280.2) skewY(10.8)"><rect x="0" y="0" width="19.0" height="27.5" rx="4.2" fill="url(#gIcon)" stroke="#7f92ad" stroke-width="0.5"/><path d="M5.7,9.9 L11.8,12.1" stroke="#1a2030" stroke-width="1.9" stroke-linecap="round"/><path d="M7.2,14.3 L11.4,15.7 M7.6,16.8 L11.0,17.9" stroke="#3a8ee0" stroke-width="1.3" stroke-linecap="round"/><ellipse cx="5.7" cy="19.3" rx="3.2" ry="1.8" fill="#141a26" transform="rotate(15 5.7 19.3)"/><path d="M12.9,22.0 L17.1,23.1" stroke="#141a26" stroke-width="1.9" stroke-linecap="round"/></g>
<polygon points="657.9,266.8 687.9,278.8 683.9,316.7 647.4,329.0 633.4,321.0 657.9,310.7" fill="#b9d0ee" opacity="0.85"/><polygon points="592.9,250.0 633.4,268.0 633.4,321.0 592.9,311.5" fill="#1f4a9a" stroke="#0d2f6e" stroke-width="1.2" stroke-linejoin="round" /><polygon points="633.4,268.0 657.9,252.2 657.9,310.7 633.4,321.0" fill="#1a428c" stroke="#0d2f6e" stroke-width="1.2" stroke-linejoin="round" /><polygon points="592.9,250.0 618.4,237.6 657.9,252.2 633.4,268.0" fill="#1b3f84" stroke="#0d2f6e" stroke-width="1.2" stroke-linejoin="round" /><polygon points="598.8,250.2 619.7,240.0 652.0,252.0 632.0,265.0" fill="#3a619e" /><line x1="612.3" y1="243.6" x2="645.0" y2="256.5" stroke="#7d9cc8" stroke-width="0.8"/><polygon points="592.9,257.0 633.4,270.8 633.4,285.8 592.9,272.0" fill="#5ab63e" stroke="#0d2f6e" stroke-width="0.6" stroke-linejoin="round" /><polygon points="633.4,270.8 656.9,259.0 656.9,275.0 633.4,285.8" fill="#4fa936" /><polyline points="593.9,258.2 632.4,272.0 632.4,284.8" fill="none" stroke="#b9e59a" stroke-width="0.9"/><g transform="translate(601.8,270.7) skewY(21.4)"><text x="0" y="0" font-size="10.4" font-weight="bold" fill="#ffffff" stroke="#ffffff" stroke-width="0.25" textLength="24.3" lengthAdjust="spacingAndGlyphs">Detata</text></g><g transform="translate(603.4,279.0) skewY(10.8)"><rect x="0" y="0" width="19.0" height="27.5" rx="4.2" fill="url(#gIcon)" stroke="#7f92ad" stroke-width="0.5"/><path d="M5.7,9.9 L11.8,12.1" stroke="#1a2030" stroke-width="1.9" stroke-linecap="round"/><path d="M7.2,14.3 L11.4,15.7 M7.6,16.8 L11.0,17.9" stroke="#3a8ee0" stroke-width="1.3" stroke-linecap="round"/><ellipse cx="5.7" cy="19.3" rx="3.2" ry="1.8" fill="#141a26" transform="rotate(15 5.7 19.3)"/><path d="M12.9,22.0 L17.1,23.1" stroke="#141a26" stroke-width="1.9" stroke-linecap="round"/></g>
<text x="214.7" y="340.0" font-size="17.01" font-weight="bold" fill="#0d3672" stroke="#0d3672" stroke-width="0.35" textLength="98.0" lengthAdjust="spacingAndGlyphs" >File Striping</text>
<line x1="99" y1="346.4" x2="424" y2="346.4" stroke="#3d62a8" stroke-width="1.2"/>
<defs><clipPath id="cpBar"><rect x="96" y="360.6" width="331.3" height="31" rx="4.5"/></clipPath></defs>
<path d="M424,361 L437,368 V392 L427,392 Z" fill="#b7cfee" opacity="0.8"/>
<path d="M110,391 H427 L437,395 H118 Z" fill="#c5d8ef" opacity="0.6"/>
<g clip-path="url(#cpBar)">
<rect x="96" y="360.6" width="81.3" height="31" fill="#e9781f"/>
<rect x="96" y="387.6" width="81.3" height="4" fill="#c9481a"/>
<rect x="96" y="360.6" width="81.3" height="2" fill="#ffffff" opacity="0.15"/>
<rect x="177.3" y="360.6" width="78.7" height="31" fill="#4fa845"/>
<rect x="177.3" y="387.6" width="78.7" height="4" fill="#2f7a32"/>
<rect x="177.3" y="360.6" width="78.7" height="2" fill="#ffffff" opacity="0.15"/>
<rect x="256" y="360.6" width="84.7" height="31" fill="#5a4ea6"/>
<rect x="256" y="387.6" width="84.7" height="4" fill="#3b3185"/>
<rect x="256" y="360.6" width="84.7" height="2" fill="#ffffff" opacity="0.15"/>
<rect x="340.7" y="360.6" width="86.6" height="31" fill="#c9333b"/>
<rect x="340.7" y="387.6" width="86.6" height="4" fill="#9a1f2a"/>
<rect x="340.7" y="360.6" width="86.6" height="2" fill="#ffffff" opacity="0.15"/>
</g>
<text x="106.2" y="381.2" font-size="13.85" font-weight="bold" fill="#ffffff" stroke="#ffffff" stroke-width="0.35" textLength="50.3" lengthAdjust="spacingAndGlyphs" >Stripe 1</text>
<text x="187.7" y="381.2" font-size="13.85" font-weight="bold" fill="#ffffff" stroke="#ffffff" stroke-width="0.35" textLength="51.1" lengthAdjust="spacingAndGlyphs" >Stripe 2</text>
<text x="271.4" y="381.2" font-size="13.85" font-weight="bold" fill="#ffffff" stroke="#ffffff" stroke-width="0.35" textLength="51.8" lengthAdjust="spacingAndGlyphs" >Stripe 3</text>
<text x="355.3" y="381.2" font-size="13.85" font-weight="bold" fill="#ffffff" stroke="#ffffff" stroke-width="0.35" textLength="52.0" lengthAdjust="spacingAndGlyphs" >Stripe 4</text>
<rect x="96" y="391.5" width="341" height="11" fill="#bcd3ee" opacity="0.75"/>
<path d="M149.8,408 C155,416 162,421 184.8,431.4" fill="none" stroke="#1f52a0" stroke-width="4.8"/>
<polygon points="142.4,397.4 157.3,403.8 145.1,413.9" fill="#2458a8" />
<path d="M371.7,410.1 C364,420 352,426 334,430.8" fill="none" stroke="#1f52a0" stroke-width="4.8"/>
<polygon points="379.6,398.0 364.8,405.4 377.5,414.9" fill="#2458a8" />
<path d="M218.5,404.5 C219.5,410 222.5,415 227.7,419" fill="none" stroke="#1f52a0" stroke-width="4"/>
<polygon points="220.2,396.3 208.7,403.4 228.8,406.3" fill="#2458a8" />
<path d="M295,404.5 C294.5,410 292.5,415 289.6,419" fill="none" stroke="#1f52a0" stroke-width="4"/>
<polygon points="293.4,396.3 285.2,406.7 304.5,403.0" fill="#2458a8" />
<polygon points="190.0,429.4 217.0,429.4 217.0,447.5 190.0,447.5" fill="#f0a21e" />
<polygon points="192.0,423.4 222.0,423.4 217.0,429.4 190.0,429.4" fill="#f6bd45" />
<polygon points="217.0,429.4 227.0,425.0 227.0,443.0 217.0,447.5" fill="#a9c3e6" />
<polygon points="289.3,430.6 315.2,430.6 315.2,445.2 289.3,445.2" fill="#2b7fcf" />
<polygon points="291.0,423.0 325.0,422.0 315.2,430.6 289.3,430.6" fill="#3f9be0" />
<polygon points="315.2,430.6 328.7,423.0 328.7,438.0 315.2,445.2" fill="#1c56a8" />
<rect x="227.3" y="426" width="47.3" height="30.5" rx="3" fill="#3a70d0"/>
<polygon points="229.0,426.0 240.0,415.0 284.8,415.0 274.6,426.0" fill="#4d86dc" />
<polygon points="274.6,426.0 284.8,415.0 284.8,446.0 274.6,456.5" fill="#2656b5" />
<rect x="234" y="434" width="36" height="6.7" rx="1.5" fill="#fff"/>
<rect x="234" y="441.8" width="36" height="5.7" rx="1.5" fill="#fff"/></svg>
</body></html>
